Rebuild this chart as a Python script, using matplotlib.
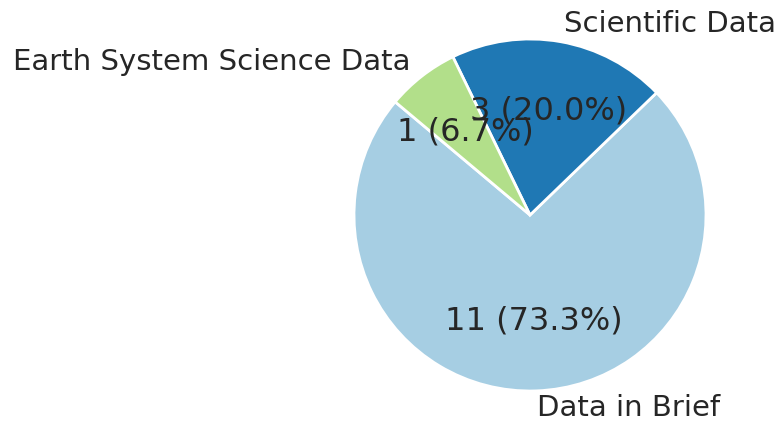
import matplotlib
matplotlib.use("Agg")
import matplotlib.pyplot as plt

labels = ["Data in Brief", "Scientific Data", "Earth System Science Data"]
counts = [11, 3, 1]
colors = ["#a6cee3", "#1f78b4", "#b2df8a"]

plt.rcParams['font.family'] = ['DejaVu Sans']
plt.rcParams['text.color'] = '#262626'

fig = plt.figure(figsize=(7.79, 4.25), dpi=100)
W, H = 779, 425
cx, cy, r = 530, 215, 176
size = 2.5 * r
ax = fig.add_axes([(cx - size / 2) / W, ((H - cy) - size / 2) / H, size / W, size / H])

total = sum(counts)
def fmt(p):
    return f"{int(round(p * total / 100))} ({p:.1f}%)"

wedges, texts, autotexts = ax.pie(
    counts, labels=labels, colors=colors, startangle=140, autopct=fmt,
    wedgeprops=dict(edgecolor='white', linewidth=2),
    textprops=dict(fontsize=21, color='#262626'))
for t in autotexts:
    t.set_fontsize(23)
ax.set_aspect('equal')
fig.savefig("out.png", dpi=100)
